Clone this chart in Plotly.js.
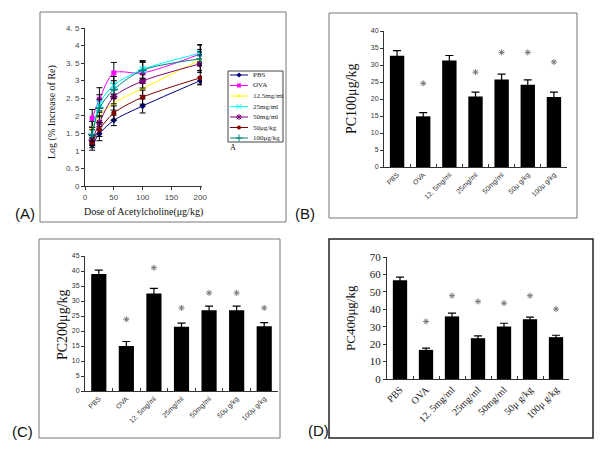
<!DOCTYPE html>
<html>
<head>
<meta charset="utf-8">
<script src="https://cdn.plot.ly/plotly-3.0.1.min.js"></script>
<style>html,body{margin:0;padding:0;background:#fff;}#chart{width:600px;height:450px;}</style>
</head>
<body>
<div id="chart"></div>
<script>
// ---------- Panel A data ----------
const doses = [12.5, 25, 50, 100, 200];
const seriesNames = ["PBS", "OVA", "12.5mg/ml", "25mg/ml", "50mg/ml", "50μg/kg", "100μg/kg"];
const aPBS    = [1.17, 1.49, 1.87, 2.28, 3.00];
const aOVA    = [1.93, 2.47, 3.22, 3.22, 3.76];
const a125mg  = [1.64, 2.01, 2.36, 2.78, 3.59];
const a25mg   = [1.40, 2.35, 2.87, 3.32, 3.78];
const a50mg   = [1.30, 1.80, 2.54, 2.99, 3.48];
const a50ug   = [1.24, 1.61, 2.08, 2.53, 3.08];
const a100ug  = [1.47, 2.22, 2.75, 3.30, 3.62];
const ePBS    = [0.15, 0.20, 0.15, 0.20, 0.10];
const eOVA    = [0.25, 0.33, 0.30, 0.30, 0.25];
const e125mg  = [0.20, 0.20, 0.20, 0.20, 0.30];
const e25mg   = [0.20, 0.25, 0.25, 0.25, 0.25];
const e50mg   = [0.15, 0.20, 0.20, 0.20, 0.25];
const e50ug   = [0.15, 0.20, 0.20, 0.20, 0.20];
const e100ug  = [0.20, 0.25, 0.25, 0.25, 0.20];
const aYTickVals = [0, 0.5, 1, 1.5, 2, 2.5, 3, 3.5, 4, 4.5];
const aYTickText = ["0", "0. 5", "1", "1. 5", "2", "2. 5", "3", "3. 5", "4", "4. 5"];

// ---------- Bar panels data ----------
const barCats   = ["PBS", "OVA", "12. 5mg/ml", "25mg/ml", "50mg/ml", "50μ g/kg", "100μ g/kg"];
const pc100     = [32.7, 14.9, 31.3, 20.7, 25.7, 24.2, 20.6];
const pc100Err  = [1.5, 1.1, 1.5, 1.3, 1.6, 1.4, 1.4];
const pc100Star = [null, 24.6, null, 27.9, 33.7, 33.7, 30.9];
const pc200     = [39.0, 15.0, 32.5, 21.4, 26.9, 26.9, 21.6];
const pc200Err  = [1.3, 1.5, 1.7, 1.2, 1.4, 1.4, 1.2];
const pc200Star = [null, 23.9, 41.1, 27.7, 32.7, 32.7, 27.7];
const pc400     = [56.6, 16.7, 35.9, 23.4, 30.1, 34.3, 24.0];
const pc400Err  = [1.9, 1.0, 1.9, 1.3, 1.9, 1.2, 1.1];
const pc400Star = [null, 33.0, 47.8, 44.5, 43.5, 47.8, 40.1];

// ---------- styles ----------
const aSeries = [aPBS, aOVA, a125mg, a25mg, a50mg, a50ug, a100ug];
const aErrors = [ePBS, eOVA, e125mg, e25mg, e50mg, e50ug, e100ug];
const colors  = ["#000080", "#FF00FF", "#FFFF00", "#00FFFF", "#800080", "#800000", "#008080"];
const symbols = ["diamond", "square", "triangle-up", "x-thin-open", "asterisk-open", "circle", "cross-thin-open"];
const W = 600, H = 450;
const px = v => v / W, py = v => 1 - v / H;

const traces = [];
aSeries.forEach((ys, i) => {
  const thin = symbols[i].indexOf("open") >= 0;
  traces.push({
    type: "scatter", mode: "lines+markers", x: doses, y: ys, xaxis: "x", yaxis: "y",
    line: {color: colors[i], width: 1, shape: "spline", smoothing: 0.8},
    marker: {color: colors[i], symbol: symbols[i], size: thin ? 6 : 5, line: {color: colors[i], width: thin ? 1.5 : 0}},
    error_y: {type: "data", array: aErrors[i], visible: true, color: "#000", thickness: 1, width: 3},
    showlegend: false, hoverinfo: "skip"
  });
  // manual legend sample
  traces.push({
    type: "scatter", mode: "lines", x: [2, 20], y: [i, i], xaxis: "x5", yaxis: "y5",
    line: {color: colors[i], width: 1}, showlegend: false, hoverinfo: "skip"
  });
  traces.push({
    type: "scatter", mode: "markers", x: [11], y: [i], xaxis: "x5", yaxis: "y5",
    marker: {color: colors[i], symbol: symbols[i], size: thin ? 5 : 4, line: {color: colors[i], width: thin ? 1 : 0}},
    showlegend: false, hoverinfo: "skip"
  });
});

function barPanel(vals, errs, stars, xa, ya) {
  traces.push({
    type: "bar", x: barCats, y: vals, xaxis: xa, yaxis: ya, width: 0.55,
    marker: {color: "#000", line: {width: 0}},
    error_y: {type: "data", array: errs, visible: true, color: "#000", thickness: 1.2, width: 4},
    showlegend: false, hoverinfo: "skip"
  });
  traces.push({
    type: "scatter", mode: "markers", x: barCats, y: stars, xaxis: xa, yaxis: ya,
    marker: {symbol: "asterisk-open", size: 5, color: "#777", line: {color: "#777", width: 1}},
    showlegend: false, hoverinfo: "skip"
  });
}
barPanel(pc100, pc100Err, pc100Star, "x2", "y2");
barPanel(pc200, pc200Err, pc200Star, "x3", "y3");
barPanel(pc400, pc400Err, pc400Star, "x4", "y4");

const smallFont = {family: "Liberation Sans, Arial", size: 7, color: "#333"};
const baseAxis = {showgrid: false, zeroline: false, showline: true, linecolor: "#333", linewidth: 1,
  ticks: "outside", ticklen: 3, tickcolor: "#333", fixedrange: true};
const catAxis = (dom, font) => Object.assign({}, baseAxis, {
  domain: dom, type: "category", range: [-0.5, 6.5], tickangle: -45, tickson: "boundaries",
  ticks: "inside", ticklen: 3, tickfont: font});

const layout = {
  width: W, height: H, margin: {l: 0, r: 0, t: 0, b: 0},
  paper_bgcolor: "#fff", plot_bgcolor: "rgba(0,0,0,0)", showlegend: false,
  xaxis: Object.assign({}, baseAxis, {domain: [px(85), px(202)], range: [0, 203],
    tickvals: [0, 50, 100, 150, 200], tickfont: {family: "Liberation Sans, Arial", size: 8, color: "#444"}, anchor: "y"}),
  yaxis: Object.assign({}, baseAxis, {domain: [py(186), py(28)], range: [0, 4.5],
    tickvals: aYTickVals, ticktext: aYTickText, tickfont: {family: "Liberation Sans, Arial", size: 8, color: "#444"}, anchor: "x"}),
  xaxis2: Object.assign(catAxis([px(384), px(567)], smallFont), {anchor: "y2"}),
  yaxis2: Object.assign({}, baseAxis, {domain: [py(167), py(31)], range: [0, 40], dtick: 5, tickfont: smallFont, anchor: "x2"}),
  xaxis3: Object.assign(catAxis([px(85), px(278)], smallFont), {anchor: "y3"}),
  yaxis3: Object.assign({}, baseAxis, {domain: [py(391), py(256)], range: [0, 45], dtick: 5, tickfont: smallFont, anchor: "x3"}),
  xaxis4: Object.assign(catAxis([px(387), px(569)], {family: "Liberation Serif, Times New Roman", size: 10, color: "#222"}), {anchor: "y4"}),
  yaxis4: Object.assign({}, baseAxis, {domain: [py(379), py(257)], range: [0, 70], dtick: 10,
    tickfont: {family: "Liberation Serif, Times New Roman", size: 11, color: "#222"}, anchor: "x4"}),
  xaxis5: {domain: [px(228), px(283)], range: [0, 55], visible: false, fixedrange: true, anchor: "y5"},
  yaxis5: {domain: [py(142), py(71)], range: [6.38, -0.38], visible: false, fixedrange: true, anchor: "x5"},
  shapes: [
    {type: "rect", xref: "paper", yref: "paper", x0: px(40), x1: px(286), y0: py(222), y1: py(12), line: {color: "#777", width: 1}},
    {type: "rect", xref: "paper", yref: "paper", x0: px(329), x1: px(577), y0: py(218), y1: py(13), line: {color: "#777", width: 1}},
    {type: "rect", xref: "paper", yref: "paper", x0: px(39), x1: px(280), y0: py(438), y1: py(239), line: {color: "#777", width: 1}},
    {type: "rect", xref: "paper", yref: "paper", x0: px(329), x1: px(593), y0: py(438), y1: py(239), line: {color: "#222", width: 1.5}},
    {type: "rect", xref: "paper", yref: "paper", x0: px(228), x1: px(283), y0: py(142), y1: py(71), line: {color: "#444", width: 1}}
  ],
  annotations: []
};

seriesNames.forEach((n, i) => layout.annotations.push({
  xref: "x5", yref: "y5", x: 23, y: i, text: n, showarrow: false, xanchor: "left", yanchor: "middle",
  font: {family: "Liberation Serif, Times New Roman", size: 7, color: "#222"}
}));

const serif = (s) => ({family: "Liberation Serif, Times New Roman", size: s, color: "#111"});
const sans = (s) => ({family: "Liberation Sans, Arial", size: s, color: "#111"});
[
  {x: 25, y: 214, text: "(A)", font: sans(15)},
  {x: 305, y: 213, text: "(B)", font: sans(15)},
  {x: 22, y: 431, text: "(C)", font: sans(15)},
  {x: 318, y: 430, text: "(D)", font: sans(15)},
  {x: 233, y: 147, text: "A", font: serif(8)},
  {x: 143, y: 212, text: "Dose of Acetylcholine(μg/kg)", font: serif(10)},
  {x: 52, y: 112, text: "Log (% Increase of Re)", font: serif(10), textangle: -90},
  {x: 352, y: 99, text: "PC100μg/kg", font: serif(14), textangle: -90},
  {x: 62, y: 325, text: "PC200μg/kg", font: serif(14), textangle: -90},
  {x: 350, y: 318, text: "PC400μg/kg", font: serif(13), textangle: -90}
].forEach(a => layout.annotations.push(Object.assign({
  xref: "paper", yref: "paper", showarrow: false, xanchor: "center", yanchor: "middle"
}, a, {x: px(a.x), y: py(a.y)})));

Plotly.newPlot("chart", traces, layout, {displayModeBar: false, staticPlot: true});
</script>
</body>
</html>
